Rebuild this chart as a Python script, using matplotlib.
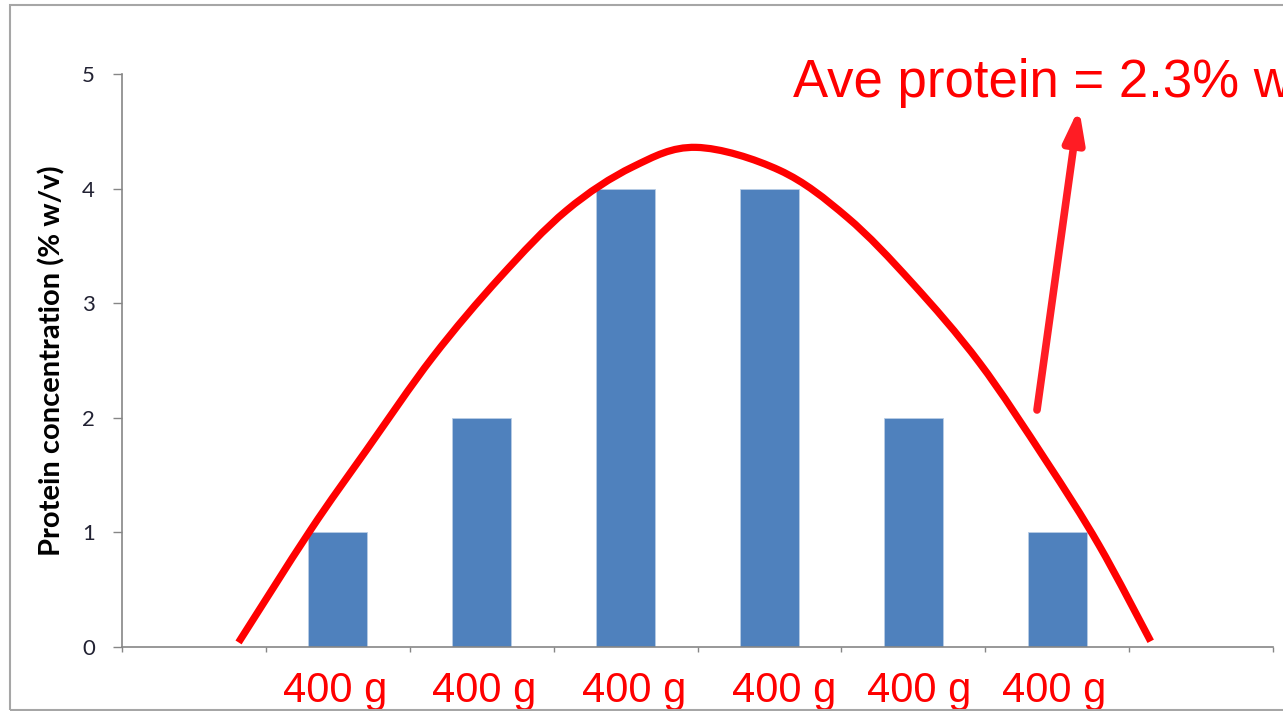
import matplotlib.pyplot as plt
from matplotlib.patches import Rectangle, PathPatch
from matplotlib.path import Path
import numpy as np

# bar data (8 category slots, first and last empty)
categories = ["", "", "", "", "", "", "", ""]
protein = [0, 1, 2, 4, 4, 2, 1, 0]

# hand-drawn red bell curve (category units, % w/v)
curve_x = [0.31, 0.81, 1.20, 1.66, 2.13, 2.59, 3.05, 3.49,
           4.07, 4.54, 4.99, 5.46, 5.92, 6.29, 6.65]
curve_y = [0.04, 1.02, 1.72, 2.53, 3.23, 3.81, 4.19, 4.36,
           4.16, 3.75, 3.18, 2.48, 1.63, 0.89, 0.05]

# overlaid labels
weight_labels = ["400 g"] * 6
weight_label_x = [0.98, 2.02, 3.06, 4.10, 5.04, 5.98]
ave_text = "Ave protein = 2.3% w/v"

fig = plt.figure(figsize=(12.83, 7.11), dpi=100)
ax = fig.add_axes([0.0951, 0.0900, 0.8971, 0.8059])

# outer frame of the slide chart
fig.patches.append(Rectangle((10 / 1283, 1 / 711), 1.2, 705 / 711,
                             transform=fig.transFigure, fill=False,
                             edgecolor="#a6a6a6", linewidth=1.5))

x = np.arange(len(categories))
ax.bar(x, protein, width=0.41, color="#4f81bd", edgecolor="#b9cde5", linewidth=0.6)

# smooth path through the read points (catmull-rom as cubic bezier)
pts = np.column_stack([curve_x, curve_y])
ext = np.vstack([pts[0], pts, pts[-1]])
verts = [tuple(pts[0])]
codes = [Path.MOVETO]
for i in range(1, len(ext) - 2):
    p0, p1, p2, p3 = ext[i - 1], ext[i], ext[i + 1], ext[i + 2]
    verts += [tuple(p1 + (p2 - p0) / 6), tuple(p2 - (p3 - p1) / 6), tuple(p2)]
    codes += [Path.CURVE4] * 3
ax.add_patch(PathPatch(Path(verts, codes), fill=False, edgecolor="#ff0000",
                       linewidth=5.2, capstyle="butt", joinstyle="round",
                       clip_on=False, zorder=3))

ax.set_xlim(-0.5, 7.5)
ax.set_ylim(0, 5)
ax.set_yticks(range(6))
ax.set_xticks(np.arange(-0.5, 8.0, 1.0))
ax.set_xticklabels([])

for s in ["top", "right"]:
    ax.spines[s].set_visible(False)
for s in ["left", "bottom"]:
    ax.spines[s].set_color("#868686")
    ax.spines[s].set_linewidth(1.2)

ax.tick_params(axis="y", direction="out", length=6.5, width=1, color="#868686",
               pad=13, labelsize=16, labelcolor="#222233")
ax.tick_params(axis="x", direction="out", length=3.5, width=1, color="#868686")
for lbl in ax.get_yticklabels():
    lbl.set_family("Lato")

ax.set_ylabel("Protein concentration (% w/v)", fontsize=21, fontweight="bold",
              family="Lato", labelpad=12, color="black")

for xi, lab in zip(weight_label_x, weight_labels):
    ax.text(xi, -0.096, lab, transform=ax.get_xaxis_transform(), ha="center",
            va="baseline", fontsize=30, color="#ff0000", family="Liberation Sans",
            clip_on=False)

fig.text(793 / 1283, 1 - 97 / 711, ave_text, ha="left", va="baseline",
         fontsize=38, color="#ff0000", family="Liberation Sans")

ax.annotate("", xy=(1079 / 1283, 1 - 108 / 711), xytext=(1037 / 1283, 1 - 410 / 711),
            xycoords="figure fraction", textcoords="figure fraction",
            arrowprops=dict(arrowstyle="-|>,head_length=1.9,head_width=0.6",
                            color="#ff1c24", linewidth=5.5, shrinkA=0, shrinkB=0))

fig.savefig("out.png", dpi=100)
